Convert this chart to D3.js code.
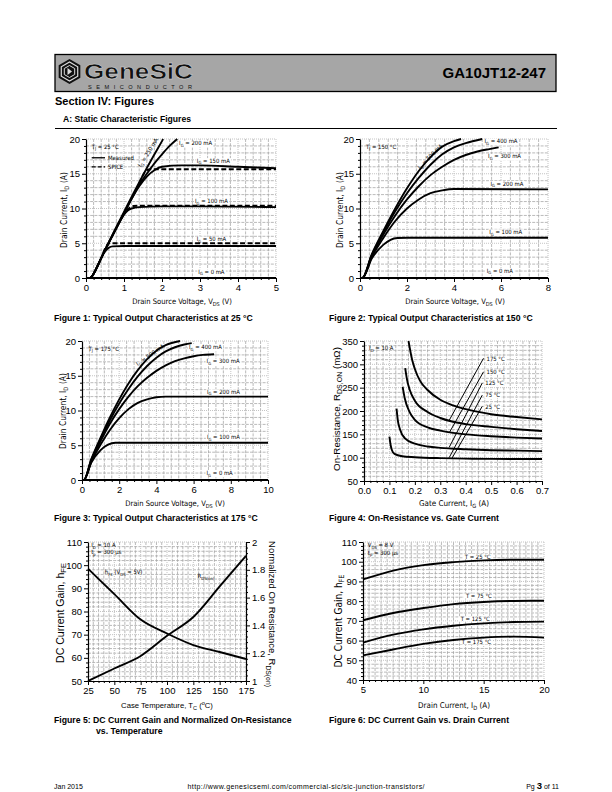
<!DOCTYPE html>
<html><head><meta charset="utf-8">
<script src="https://cdn.jsdelivr.net/npm/d3@7"></script>
<style>body{margin:0;background:#fff}</style>
</head><body>
<script>
// ---------------- DATA ----------------
// Figure 1 (Tj = 25 C) measured: [VDS (V), ID (A)]
const fig1_m0   = [[0,0],[5,0]];
const fig1_m50  = [[0,0],[0.1,0],[0.2,0.6],[0.3,1.6],[0.4,2.9],[0.5,3.8],[0.6,4.35],[0.7,4.55],[1,4.6],[5,4.6]];
const fig1_m100 = [[0,0],[0.1,0],[0.2,0.6],[0.3,1.7],[0.5,4.0],[0.75,6.6],[0.9,8.2],[1.0,9.1],[1.1,9.7],[1.2,10.0],[1.4,10.2],[2,10.3],[3,10.3],[5,10.2]];
const fig1_m150 = [[0,0],[0.1,0],[0.2,0.6],[0.3,1.7],[0.5,4.0],[0.75,6.7],[1.0,9.3],[1.2,11.4],[1.4,13.2],[1.6,14.6],[1.8,15.5],[2.0,16.0],[2.5,16.2],[3,16.2],[4,16.0],[5,15.8]];
const fig1_m200 = [[0,0],[0.1,0],[0.2,0.6],[0.3,1.7],[0.5,4.0],[0.75,6.7],[1.0,9.3],[1.25,11.9],[1.4,13.4],[1.6,15.0],[1.8,16.5],[2.0,17.8],[2.2,19.0],[2.4,20]];
const fig1_m250 = [[0,0],[0.1,0],[0.2,0.6],[0.3,1.7],[0.5,4.0],[0.75,6.8],[1.0,9.5],[1.25,12.2],[1.5,14.8],[1.75,17.3],[2.0,19.7],[2.03,20]];
// Figure 1 SPICE model (dashed)
const fig1_s50  = [[0.45,3.6],[0.55,4.7],[0.62,5.0],[5,5.0]];
const fig1_s100 = [[0.95,8.8],[1.1,9.9],[1.25,10.35],[1.4,10.4],[5,10.4]];
const fig1_s150 = [[1.4,13.6],[1.5,14.8],[1.6,15.5],[1.7,15.65],[5,15.65]];

// Figure 2 (Tj = 150 C)
const fig2_0   = [[0,0],[8,0]];
const fig2_100 = [[0,0],[0.1,0],[0.5,2.8],[1,4.8],[1.3,5.5],[1.6,5.75],[2,5.8],[8,5.8]];
const fig2_200 = [[0,0],[0.1,0],[0.5,3.0],[1,5.8],[1.5,8.2],[2,10.0],[2.5,11.3],[3,12.2],[3.5,12.6],[4,12.8],[8,12.75]];
const fig2_300 = [[0,0],[0.1,0],[0.5,3.2],[1,6.3],[1.5,9.0],[2,11.3],[2.5,13.2],[3,14.8],[3.5,16.0],[4,17.0],[4.5,17.7],[5,18.2],[5.5,18.55],[5.9,18.8]];
const fig2_400 = [[0,0],[0.1,0],[0.5,3.3],[1,6.6],[1.5,9.6],[2,12.2],[2.5,14.4],[3,16.3],[3.5,17.8],[4,18.8],[4.5,19.4],[5.2,20]];
const fig2_500 = [[0,0],[0.1,0],[0.5,3.4],[1,6.8],[1.5,10.0],[2,12.9],[2.5,15.4],[3,17.4],[3.5,18.9],[4,19.7],[4.3,20]];

// Figure 3 (Tj = 175 C)
const fig3_0   = [[0,0],[10,0]];
const fig3_100 = [[0,0],[0.1,0],[0.5,2.5],[1,4.3],[1.4,5.1],[1.8,5.35],[10,5.35]];
const fig3_200 = [[0,0],[0.1,0],[0.5,2.6],[1,5.1],[1.5,7.2],[2,8.9],[2.5,10.2],[3,11.1],[3.5,11.6],[4,11.9],[4.5,12.0],[10,12.0]];
const fig3_300 = [[0,0],[0.1,0],[0.5,2.8],[1,5.6],[1.5,8.1],[2,10.2],[2.5,12.0],[3,13.5],[3.5,14.7],[4,15.7],[4.5,16.5],[5,17.1],[5.5,17.5],[6,17.8],[6.5,18.0],[7.1,18.1]];
const fig3_400 = [[0,0],[0.1,0],[0.5,2.9],[1,5.9],[1.5,8.6],[2,11.0],[2.5,13.1],[3,14.9],[3.5,16.4],[4,17.6],[4.5,18.5],[5,19.1],[5.5,19.5],[5.9,19.7]];
const fig3_500 = [[0,0],[0.1,0],[0.5,3.0],[1,6.1],[1.5,9.0],[2,11.6],[2.5,13.9],[3,15.8],[3.5,17.4],[4,18.6],[4.5,19.4],[5.27,20]];

// Figure 4: [IG (A), RDS,ON (mOhm)]
const fig4_175 = [[0.175,350],[0.19,308],[0.2,290],[0.22,265],[0.25,245],[0.3,224],[0.35,212],[0.4,204],[0.45,198],[0.5,193],[0.6,187],[0.7,182]];
const fig4_150 = [[0.162,292],[0.17,265],[0.18,245],[0.2,222],[0.25,198],[0.3,185],[0.35,177],[0.4,172],[0.5,166],[0.6,161],[0.7,157]];
const fig4_125 = [[0.152,252],[0.16,228],[0.18,197],[0.2,181],[0.25,165],[0.3,158],[0.35,153],[0.4,150],[0.5,146],[0.6,143],[0.7,141]];
const fig4_75  = [[0.128,205],[0.133,180],[0.142,160],[0.16,142],[0.2,130],[0.25,124],[0.3,121],[0.4,118],[0.5,116],[0.6,115],[0.7,114]];
const fig4_25  = [[0.1,145],[0.105,126],[0.11,116],[0.12,108],[0.15,103],[0.2,101],[0.3,99],[0.4,98],[0.5,97.5],[0.7,97]];
const fig4_temps = ["175 °C","150 °C","125 °C","75 °C","25 °C"];
const fig4_leaderLo = [[0.335,180],[0.335,153],[0.335,122],[0.335,100],[0.345,98]];
const fig4_leaderHi = [[0.47,313],[0.47,284],[0.465,260],[0.465,234],[0.465,210]];

// Figure 5: [TC (C), value]
const fig5_hfe  = [[25,98.5],[50,87.5],[75,76.5],[100,70.5],[125,65.5],[150,62.5],[175,59.5]];
const fig5_rdson = [[25,1.0],[50,1.09],[75,1.18],[100,1.325],[125,1.46],[150,1.68],[175,1.9]];

// Figure 6: [ID (A), hFE]
const fig6_25  = [[5,91],[7.5,95.5],[10,98.3],[12.5,99.8],[15,100.7],[17.5,101],[20,101]];
const fig6_75  = [[5,70.3],[7.5,74],[10,76.5],[12.5,78.5],[15,79.6],[17.5,80.1],[20,80.2]];
const fig6_125 = [[5,59],[7.5,63],[10,65.7],[12.5,67.5],[15,68.7],[17.5,69.4],[20,69.6]];
const fig6_175 = [[5,52.5],[7.5,55.5],[10,58.3],[12.5,60.3],[15,61.5],[17.5,62],[20,61.5]];

// ---------------- DRAWING ----------------
const W=612,H=792;
const svg=d3.select('body').append('svg').attr('width',W).attr('height',H).style('display','block');
const SANS='"Liberation Sans", Arial, Helvetica, sans-serif';
const NARROW='"Liberation Sans Narrow", "DejaVu Sans Condensed", "Liberation Sans", sans-serif';

function rich(t, parts, fs){
  let shift=0;
  parts.forEach(p=>{
    const isSub = typeof p!=='string' && p.sub!==undefined;
    const isSup = typeof p!=='string' && p.sup!==undefined;
    const target = isSub? fs*0.28 : isSup? -fs*0.38 : 0;
    const ts=t.append('tspan').text(isSub?p.sub:isSup?p.sup:p);
    if(Math.abs(target-shift)>1e-9) ts.attr('dy', target-shift);
    if(isSub||isSup) ts.attr('font-size', fs*0.72);
    shift=target;
  });
}
// text helper; o.tl = wanted width (font-size is scaled to reach it)
function txt(parent,x,y,parts,o={}){
  let fs=o.fs||9;
  const P=typeof parts==='string'?[parts]:parts;
  const g=parent.append('g').attr('transform',`translate(${x},${y})`+(o.rot!==undefined?` rotate(${o.rot})`:''));
  const t=g.append('text').attr('x',0).attr('y',0)
    .attr('font-family',o.ff||NARROW).attr('font-size',fs)
    .attr('font-weight',o.fw||'normal').attr('fill','#000')
    .attr('text-anchor',o.anchor||'start');
  rich(t,P,fs);
  if(o.tl){
    const w=t.node().getComputedTextLength();
    if(w>0){fs=fs*o.tl/w; t.attr('font-size',fs); t.selectAll('tspan').remove(); rich(t,P,fs);}
  }
  return t;
}
const steps=(d,s)=>d3.range(Math.round((d[1]-d[0])/s)+1).map(i=>+(d[0]+i*s).toFixed(6));
const TFS=9.5;

function makeChart(o){
  const g=svg.append('g');
  const x=d3.scaleLinear().domain(o.xd).range([o.left,o.right]);
  const y=d3.scaleLinear().domain(o.yd).range([o.bottom,o.top]);
  const xMaj=steps(o.xd,o.xMaj), yMaj=steps(o.yd,o.yMaj);
  const isMaj=(arr,v)=>arr.some(m=>Math.abs(m-v)<1e-6);
  const xMin=steps(o.xd,o.xMin).filter(v=>!isMaj(xMaj,v));
  const yMin=steps(o.yd,o.yMin).filter(v=>!isMaj(yMaj,v));
  const grid=g.append('g');
  const gv=grid.append('g'), gh=grid.append('g'), gmv=grid.append('g'), gmh=grid.append('g');
  gv.selectAll('line').data(xMin).join('line').attr('x1',d=>x(d)).attr('x2',d=>x(d)).attr('y1',o.top).attr('y2',o.bottom)
    .attr('stroke','#a8a8a8').attr('stroke-width',0.8).attr('stroke-dasharray','3,1.2');
  gh.selectAll('line').data(yMin).join('line').attr('y1',d=>y(d)).attr('y2',d=>y(d)).attr('x1',o.left).attr('x2',o.right)
    .attr('stroke','#a8a8a8').attr('stroke-width',0.8).attr('stroke-dasharray','3,1.2');
  gmv.selectAll('line').data(xMaj.slice(1)).join('line').attr('x1',d=>x(d)).attr('x2',d=>x(d)).attr('y1',o.top).attr('y2',o.bottom)
    .attr('stroke','#c4c4c4').attr('stroke-width',1).attr('stroke-dasharray','1,1');
  gmh.selectAll('line').data(yMaj.slice(1)).join('line').attr('y1',d=>y(d)).attr('y2',d=>y(d)).attr('x1',o.left).attr('x2',o.right)
    .attr('stroke','#c4c4c4').attr('stroke-width',1).attr('stroke-dasharray','1,1');
  const styleAx=s=>{s.attr('font-family',SANS).attr('font-size',TFS);
    s.selectAll('text').attr('fill','#000'); s.selectAll('line').attr('stroke','#000'); s.select('.domain').attr('stroke','#000').attr('stroke-width',1.2);};
  const bx=g.append('g').attr('transform',`translate(0,${o.bottom})`);
  bx.append('g').call(d3.axisBottom(x).tickValues(xMin).tickSize(2).tickSizeOuter(0).tickFormat('')).call(s=>s.select('.domain').remove()).call(styleAx);
  bx.append('g').call(d3.axisBottom(x).tickValues(xMaj).tickSize(4).tickSizeOuter(0).tickPadding(2).tickFormat(o.xf||(d=>d))).call(styleAx);
  const ly=g.append('g').attr('transform',`translate(${o.left},0)`);
  ly.append('g').call(d3.axisLeft(y).tickValues(yMin).tickSize(2).tickSizeOuter(0).tickFormat('')).call(s=>s.select('.domain').remove()).call(styleAx);
  ly.append('g').call(d3.axisLeft(y).tickValues(yMaj).tickSize(4).tickSizeOuter(0).tickPadding(2).tickFormat(o.yf||(d=>d))).call(styleAx);
  const labels=g.append('g'), curves=g.append('g');
  const line=(yy)=>d3.line().x(d=>x(d[0])).y(d=>yy(d[1])).curve(d3.curveMonotoneX);
  return {g,x,y,labels,curves,
    path(data,dash,yy){curves.append('path').datum(data).attr('d',line(yy||y)).attr('fill','none').attr('stroke','#000')
      .attr('stroke-width',1.9).attr('stroke-dasharray',dash||null).attr('stroke-linejoin','round');},
    label(xv,yv,parts,op={}){
      const t=txt(labels,x(xv),y(yv),parts,Object.assign({fs:5.9},op));
      if(op.bg){const b=t.node().getBBox();
        d3.select(t.node().parentNode).insert('rect','text').attr('x',b.x-1).attr('y',b.y+0.5).attr('width',b.width+2).attr('height',b.height-1).attr('fill','#fff');}
      return t;}
  };
}

// ---------- Header ----------
svg.append('rect').attr('x',55).attr('y',54.5).attr('width',501).attr('height',37).attr('fill','#a6a6a6').attr('stroke','#000').attr('stroke-width',1.3);
(function logo(){
  const cx=69.5, cy=71.5, r=12.5;
  const hex=(rr,rot)=>d3.range(6).map(i=>{const a=Math.PI/3*i+rot;return [cx+rr*Math.cos(a),cy+rr*Math.sin(a)];});
  svg.append('polygon').attr('points',hex(r,Math.PI/6).join(' ')).attr('fill','#111');
  svg.append('polygon').attr('points',hex(r-3,Math.PI/6).join(' ')).attr('fill','none').attr('stroke','#ddd').attr('stroke-width',1.2);
  svg.append('polygon').attr('points',hex(r-6.5,Math.PI/6).join(' ')).attr('fill','#111').attr('stroke','#ddd').attr('stroke-width',1);
  svg.append('path').attr('d',`M${cx-2},${cy-3.5} L${cx+2.5},${cy} L${cx-2},${cy+3.5} Z`).attr('fill','#ddd');
})();
svg.append('text').attr('x',84).attr('y',79).attr('font-family',SANS).attr('font-weight','bold').attr('font-size',22)
  .attr('textLength',109).attr('lengthAdjust','spacingAndGlyphs')
  .attr('fill','#111').attr('stroke','#d8d8d8').attr('stroke-width',0.5).text('GeneSiC');
svg.append('text').attr('x',88).attr('y',88.5).attr('font-family',SANS).attr('font-size',5.6)
  .attr('textLength',104).attr('fill','#111').text('SEMICONDUCTOR');
svg.append('text').attr('x',546).attr('y',78).attr('text-anchor','end').attr('font-family',SANS).attr('font-weight','bold').attr('font-size',15).attr('fill','#000').text('GA10JT12-247');
svg.append('text').attr('x',55).attr('y',105).attr('font-family',SANS).attr('font-weight','bold').attr('font-size',11).text('Section IV: Figures');
svg.append('text').attr('x',63).attr('y',121.5).attr('font-family',SANS).attr('font-weight','bold').attr('font-size',8.6).text('A: Static Characteristic Figures');
svg.append('line').attr('x1',55).attr('x2',557).attr('y1',128.5).attr('y2',128.5).attr('stroke','#000').attr('stroke-width',1);

const IG=(v)=>['I',{sub:'G'},` = ${v} mA`];
const cap=(x,y,s)=>txt(svg,x,y,s,{ff:SANS,fw:'bold',fs:8.7});
const xTitle=(x,y,parts,tl,ff)=>txt(svg,x,y,parts,{anchor:'middle',fs:9.5,tl,ff});
const yTitle=(x,y,parts,tl,ff,rot)=>txt(svg,x,y,parts,{anchor:'middle',fs:9.5,tl,ff,rot:rot||-90});

// ---------- Figure 1 ----------
const c1=makeChart({left:86,right:276,top:139,bottom:278,xd:[0,5],yd:[0,20],xMaj:1,xMin:0.2,yMaj:5,yMin:1});
c1.label(0.15,18.6,['T',{sub:'J'},' = 25 °C']);
c1.labels.append('line').attr('x1',c1.x(0.15)).attr('x2',c1.x(0.5)).attr('y1',c1.y(17.3)).attr('y2',c1.y(17.3)).attr('stroke','#000').attr('stroke-width',1.3);
c1.label(0.58,16.95,'Measured');
c1.labels.append('line').attr('x1',c1.x(0.15)).attr('x2',c1.x(0.5)).attr('y1',c1.y(16.0)).attr('y2',c1.y(16.0)).attr('stroke','#000').attr('stroke-width',1.3).attr('stroke-dasharray','4,2');
c1.label(0.58,15.65,'SPICE');
c1.label(2.45,19.1,IG(200),{bg:true});
c1.label(3.35,16.6,IG(150),{bg:true,anchor:'middle'});
c1.label(3.3,10.75,IG(100),{bg:true,anchor:'middle'});
c1.label(3.3,5.3,IG(50),{bg:true,anchor:'middle'});
c1.label(3.3,0.6,IG(0),{bg:true,anchor:'middle'});
c1.label(1.45,15.9,IG(250),{rot:-58});
[fig1_m0,fig1_m50,fig1_m100,fig1_m150,fig1_m200,fig1_m250].forEach(d=>c1.path(d));
[fig1_s50,fig1_s100,fig1_s150].forEach(d=>c1.path(d,'5,2.5'));
xTitle(182,304,['Drain Source Voltage, V',{sub:'DS'},' (V)'],100);
yTitle(66.5,210,['Drain Current, I',{sub:'D'},' (A)'],76);
cap(54,321,'Figure 1: Typical Output Characteristics at 25 °C');

// ---------- Figure 2 ----------
const c2=makeChart({left:360,right:548,top:139,bottom:278,xd:[0,8],yd:[0,20],xMaj:2,xMin:0.4,yMaj:5,yMin:1});
c2.label(0.25,18.6,['T',{sub:'J'},' = 150 °C']);
c2.label(5.3,19.4,IG(400),{bg:true});
c2.label(5.45,17.2,IG(300),{bg:true});
c2.label(6.25,13.3,IG(200),{bg:true,anchor:'middle'});
c2.label(6.2,6.35,IG(100),{bg:true,anchor:'middle'});
c2.label(5.95,0.75,IG(0),{bg:true,anchor:'middle'});
c2.label(2.55,15.6,IG(500),{rot:-45});
[fig2_0,fig2_100,fig2_200,fig2_300,fig2_400,fig2_500].forEach(d=>c2.path(d));
xTitle(455,304,['Drain Source Voltage, V',{sub:'DS'},' (V)'],100);
yTitle(342.5,210,['Drain Current, I',{sub:'D'},' (A)'],76);
cap(329,321,'Figure 2: Typical Output Characteristics at 150 °C');

// ---------- Figure 3 ----------
const c3=makeChart({left:82,right:268,top:341,bottom:480,xd:[0,10],yd:[0,20],xMaj:2,xMin:0.4,yMaj:5,yMin:1});
c3.label(0.35,18.6,['T',{sub:'J'},' = 175 °C']);
c3.label(5.75,18.8,IG(400),{bg:true});
c3.label(6.7,16.8,IG(300),{bg:true});
c3.label(7.6,12.4,IG(200),{bg:true,anchor:'middle'});
c3.label(7.6,5.9,IG(100),{bg:true,anchor:'middle'});
c3.label(7.4,0.7,IG(0),{bg:true,anchor:'middle'});
c3.label(3.0,16.4,IG(500),{rot:-35});
[fig3_0,fig3_100,fig3_200,fig3_300,fig3_400,fig3_500].forEach(d=>c3.path(d));
xTitle(175,506,['Drain Source Voltage, V',{sub:'DS'},' (V)'],100);
yTitle(66,411,['Drain Current, I',{sub:'D'},' (A)'],76);
cap(54,521,'Figure 3: Typical Output Characteristics at 175 °C');

// ---------- Figure 4 ----------
const c4=makeChart({left:364,right:542,top:341,bottom:481,xd:[0,0.7],yd:[50,350],xMaj:0.1,xMin:0.025,yMaj:50,yMin:10,xf:d3.format('.1f')});
c4.label(0.02,330,['I',{sub:'D'},' = 10 A']);
fig4_temps.forEach((t,i)=>{
  c4.curves.append('line').attr('x1',c4.x(fig4_leaderLo[i][0])).attr('y1',c4.y(fig4_leaderLo[i][1]))
    .attr('x2',c4.x(fig4_leaderHi[i][0])).attr('y2',c4.y(fig4_leaderHi[i][1])).attr('stroke','#000').attr('stroke-width',1);
  c4.label(fig4_leaderHi[i][0]+0.012,fig4_leaderHi[i][1]-5,t,{bg:true});
});
[fig4_175,fig4_150,fig4_125,fig4_75,fig4_25].forEach(d=>c4.path(d));
xTitle(454,506,['Gate Current, I',{sub:'G'},' (A)'],70);
yTitle(339.5,409,['On-Resistance, R',{sub:'DS,ON'},' (mΩ)'],124,SANS);
cap(329,521,'Figure 4: On-Resistance vs. Gate Current');

// ---------- Figure 5 ----------
const c5=makeChart({left:88,right:246,top:542,bottom:681,xd:[25,175],yd:[50,110],xMaj:25,xMin:5,yMaj:10,yMin:2});
const y5r=d3.scaleLinear().domain([1,2]).range([681,542]);
const rAx=c5.g.append('g').attr('transform','translate(246,0)');
const st=s=>{s.attr('font-family',SANS).attr('font-size',TFS);s.selectAll('text').attr('fill','#000');s.selectAll('line').attr('stroke','#000');s.select('.domain').attr('stroke','#000').attr('stroke-width',1.2);};
rAx.append('g').call(d3.axisRight(y5r).tickValues(steps([1,2],0.04).filter((v,i)=>i%5)).tickSize(2).tickSizeOuter(0).tickFormat('')).call(s=>s.select('.domain').remove()).call(st);
rAx.append('g').call(d3.axisRight(y5r).tickValues(steps([1,2],0.2)).tickSize(4).tickSizeOuter(0).tickPadding(2).tickFormat(d=>(d===1||d===2)?d:d.toFixed(1))).call(st);
c5.label(28,107.8,['I',{sub:'D'},' = 10 A']);
c5.label(28,104.8,['t',{sub:'p'},' = 300 µs']);
c5.label(41,96.2,['h',{sub:'FE'},' (V',{sub:'DS'},' = 5V)']);
c5.label(129,94.3,['R',{sub:'DS(on)'}]);
c5.path(fig5_hfe);
c5.path(fig5_rdson,null,y5r);
xTitle(167,708,['Case Temperature, T',{sub:'C'},' (',{sup:'o'},'C)'],92,SANS);
yTitle(63.5,613,['DC Current Gain, h',{sub:'FE'}],100,SANS);
yTitle(269,614,['Normalized On Resistance, R',{sub:'DS(on)'}],146,SANS,90);
cap(54,723,'Figure 5: DC Current Gain and Normalized On-Resistance');
cap(96,734,'vs. Temperature');

// ---------- Figure 6 ----------
const c6=makeChart({left:363,right:544,top:542,bottom:680,xd:[5,20],yd:[40,110],xMaj:5,xMin:0.5,yMaj:10,yMin:2});
c6.label(5.4,107.3,['V',{sub:'DS'},' = 8 V']);
c6.label(5.4,103.5,['t',{sub:'p'},' = 300 µs']);
c6.label(14.5,101.6,'T = 25 °C',{bg:true,anchor:'middle'});
c6.label(14.6,81.6,'T = 75 °C',{bg:true,anchor:'middle'});
c6.label(14.3,70.0,'T = 125 °C',{bg:true,anchor:'middle'});
c6.label(14.4,58.3,'T = 175 °C',{bg:true,anchor:'middle'});
[fig6_25,fig6_75,fig6_125,fig6_175].forEach(d=>c6.path(d));
xTitle(454,708,['Drain Current, I',{sub:'D'},' (A)'],72);
yTitle(341.5,621,['DC Current Gain, h',{sub:'FE'}],93);
cap(329,723,'Figure 6: DC Current Gain vs. Drain Current');

// ---------- Footer ----------
svg.append('text').attr('x',54).attr('y',789).attr('font-family',SANS).attr('font-size',7).text('Jan 2015');
svg.append('text').attr('x',306).attr('y',789).attr('text-anchor','middle').attr('font-family',SANS).attr('font-size',7).attr('textLength',237).text('http://www.genesicsemi.com/commercial-sic/sic-junction-transistors/');
const pg=svg.append('text').attr('x',559).attr('y',789).attr('text-anchor','end').attr('font-family',SANS).attr('font-size',7);
pg.append('tspan').text('Pg ');pg.append('tspan').attr('font-size',9.5).attr('font-weight','bold').text('3');pg.append('tspan').text(' of 11');
</script>
</body></html>
